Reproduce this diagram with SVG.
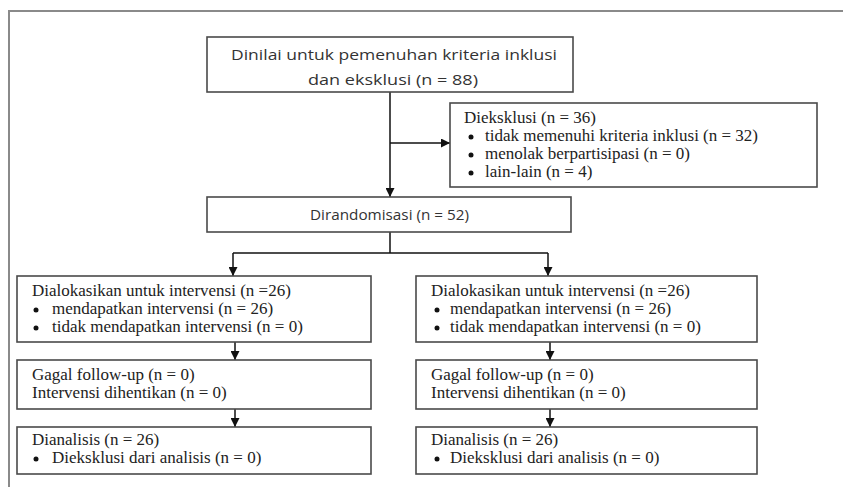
<svg xmlns="http://www.w3.org/2000/svg" width="843" height="487" viewBox="0 0 843 487">
<defs>
<marker id="ah" viewBox="0 0 10 10" refX="10" refY="5" markerWidth="9" markerHeight="9" markerUnits="userSpaceOnUse" orient="auto">
<path d="M0,0 L10,5 L0,10 z" fill="#111"/>
</marker>
<style>
.box{fill:#fff;stroke:#4a4a4a;stroke-width:1.6}
.sans{font-size:15px;fill:#333}
.ser{font-size:17px;fill:#222}
.ln{stroke:#111;stroke-width:1.5;fill:none}
.dot{fill:#111}
</style>
</defs>
<rect width="843" height="487" fill="#fff"/>
<path d="M9,487 V11 H843" fill="none" stroke="#8a8a8a" stroke-width="2"/>

<g id="connectors">
<path class="ln" d="M390,92 V197" marker-end="url(#ah)"/>
<path class="ln" d="M390,143 H450" marker-end="url(#ah)"/>
<path class="ln" d="M390,232 V253"/>
<path class="ln" d="M233,253 H548"/>
<path class="ln" d="M233,253 V276" marker-end="url(#ah)"/>
<path class="ln" d="M548,253 V276" marker-end="url(#ah)"/>
<path class="ln" d="M235,342 V360" marker-end="url(#ah)"/>
<path class="ln" d="M235,409 V427" marker-end="url(#ah)"/>
<path class="ln" d="M550,342 V360" marker-end="url(#ah)"/>
<path class="ln" d="M550,409 V427" marker-end="url(#ah)"/>
</g>

<g font-family="'Open Sans', 'DejaVu Sans', sans-serif">
<g id="n_screen">
<rect class="box" x="207" y="37" width="366" height="55"/>
<text class="sans" x="231" y="60" textLength="326" lengthAdjust="spacingAndGlyphs">Dinilai untuk pemenuhan kriteria inklusi</text>
<text class="sans" x="308" y="85" textLength="170" lengthAdjust="spacingAndGlyphs">dan eksklusi (n = 88)</text>
</g>
<g id="n_rand">
<rect class="box" x="207" y="197" width="364" height="35"/>
<text class="sans" x="310" y="220" textLength="159" lengthAdjust="spacingAndGlyphs">Dirandomisasi (n = 52)</text>
</g>
</g>

<g font-family="'Liberation Serif', 'Times New Roman', serif">
<g id="n_excl">
<rect class="box" x="450" y="103" width="367" height="84"/>
<text class="ser" x="464" y="123">Dieksklusi (n = 36)</text>
<circle class="dot" cx="471" cy="137" r="2.5"/>
<text class="ser" x="485" y="141">tidak memenuhi kriteria inklusi (n = 32)</text>
<circle class="dot" cx="471" cy="155" r="2.5"/>
<text class="ser" x="485" y="159">menolak berpartisipasi (n = 0)</text>
<circle class="dot" cx="471" cy="173" r="2.5"/>
<text class="ser" x="485" y="177">lain-lain (n = 4)</text>
</g>

<g id="n_alloc_l">
<rect class="box" x="17" y="276" width="354" height="66"/>
<text class="ser" x="32" y="296">Dialokasikan untuk intervensi (n =26)</text>
<circle class="dot" cx="36" cy="310" r="2.5"/>
<text class="ser" x="52" y="314">mendapatkan intervensi (n = 26)</text>
<circle class="dot" cx="36" cy="328" r="2.5"/>
<text class="ser" x="52" y="332">tidak mendapatkan intervensi (n = 0)</text>
</g>

<g id="n_follow_l">
<rect class="box" x="17" y="360" width="354" height="49"/>
<text class="ser" x="32" y="380">Gagal follow-up (n = 0)</text>
<text class="ser" x="32" y="398">Intervensi dihentikan (n = 0)</text>
</g>

<g id="n_anal_l">
<rect class="box" x="17" y="427" width="354" height="47"/>
<text class="ser" x="32" y="445">Dianalisis (n = 26)</text>
<circle class="dot" cx="36" cy="459" r="2.5"/>
<text class="ser" x="52" y="463">Dieksklusi dari analisis (n = 0)</text>
</g>

<g id="n_alloc_r">
<rect class="box" x="416" y="276" width="341" height="66"/>
<text class="ser" x="431" y="296">Dialokasikan untuk intervensi (n =26)</text>
<circle class="dot" cx="437" cy="310" r="2.5"/>
<text class="ser" x="450" y="314">mendapatkan intervensi (n = 26)</text>
<circle class="dot" cx="437" cy="328" r="2.5"/>
<text class="ser" x="450" y="332">tidak mendapatkan intervensi (n = 0)</text>
</g>

<g id="n_follow_r">
<rect class="box" x="416" y="360" width="341" height="49"/>
<text class="ser" x="431" y="380">Gagal follow-up (n = 0)</text>
<text class="ser" x="431" y="398">Intervensi dihentikan (n = 0)</text>
</g>

<g id="n_anal_r">
<rect class="box" x="416" y="427" width="341" height="47"/>
<text class="ser" x="431" y="445">Dianalisis (n = 26)</text>
<circle class="dot" cx="437" cy="459" r="2.5"/>
<text class="ser" x="450" y="463">Dieksklusi dari analisis (n = 0)</text>
</g>
</g>
</svg>
